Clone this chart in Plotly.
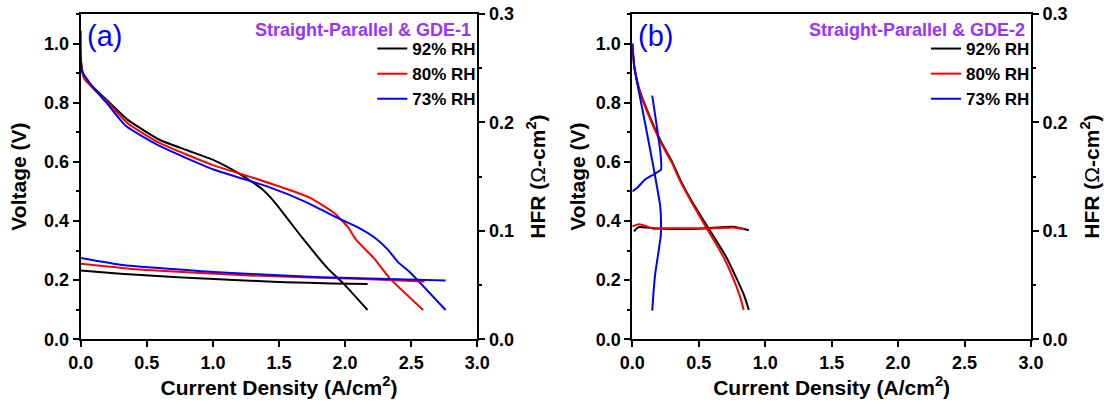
import plotly.graph_objects as go

# ---------------- data ----------------
# Panel (a): Straight-Parallel & GDE-1
ja_92 = [0.0, 0.01, 0.03, 0.1, 0.195, 0.357, 0.6, 0.8, 1.005, 1.17, 1.28, 1.38, 1.465, 1.68, 1.87, 1.99, 2.17]
va_92 = [0.95, 0.91, 0.88, 0.85, 0.81, 0.742, 0.674, 0.64, 0.606, 0.568, 0.537, 0.505, 0.465, 0.341, 0.239, 0.1875, 0.099]
ja_80 = [0.0, 0.01, 0.03, 0.1, 0.195, 0.357, 0.6, 1.0, 1.276, 1.546, 1.735, 1.92, 2.02, 2.086, 2.22, 2.34, 2.59]
va_80 = [0.95, 0.91, 0.88, 0.845, 0.805, 0.73, 0.663, 0.589, 0.55, 0.51, 0.478, 0.426, 0.38, 0.335, 0.273, 0.205, 0.099]
ja_73 = [0.0, 0.011, 0.086, 0.195, 0.343, 0.6, 1.005, 1.41, 1.7, 1.95, 2.1, 2.22, 2.32, 2.40, 2.49, 2.76]
va_73 = [1.043, 0.907, 0.856, 0.80, 0.721, 0.653, 0.574, 0.517, 0.465, 0.409, 0.378, 0.345, 0.305, 0.261, 0.227, 0.099]

jha_92 = [0.0, 0.3, 0.735, 1.2, 1.546, 1.9, 2.17]
ha_92 = [0.0635, 0.0605, 0.0573, 0.0545, 0.0527, 0.0515, 0.0511]
jha_80 = [0.0, 0.465, 1.276, 2.086, 2.6]
ha_80 = [0.0697, 0.0641, 0.0589, 0.0558, 0.0533]
jha_73 = [0.0, 0.33, 1.005, 1.816, 2.76]
ha_73 = [0.075, 0.0682, 0.062, 0.0573, 0.0543]

# Panel (b): Straight-Parallel & GDE-2
jb_92 = [0.0, 0.015, 0.05, 0.116, 0.22, 0.30, 0.36, 0.45, 0.55, 0.63, 0.707, 0.78, 0.84, 0.877]
vb_92 = [1.0, 0.92, 0.85, 0.77, 0.665, 0.60, 0.54, 0.465, 0.392, 0.335, 0.278, 0.21, 0.15, 0.099]
jb_80 = [0.0, 0.015, 0.05, 0.116, 0.22, 0.30, 0.36, 0.45, 0.54, 0.62, 0.69, 0.76, 0.81, 0.838]
vb_80 = [1.0, 0.92, 0.845, 0.765, 0.66, 0.595, 0.535, 0.46, 0.39, 0.33, 0.275, 0.205, 0.145, 0.099]
jb_73 = [0.0, 0.013, 0.04, 0.09, 0.158, 0.21, 0.216, 0.214, 0.195, 0.172, 0.16, 0.15]
vb_73 = [1.0, 0.93, 0.86, 0.745, 0.585, 0.45, 0.40, 0.35, 0.29, 0.22, 0.16, 0.097]

jhb_92 = [0.013, 0.03, 0.053, 0.158, 0.3, 0.5, 0.76, 0.877]
hb_92 = [0.0995, 0.102, 0.1035, 0.1025, 0.1018, 0.102, 0.1038, 0.1005]
jhb_80 = [0.0, 0.03, 0.053, 0.1, 0.158, 0.236, 0.45, 0.629, 0.76, 0.84]
hb_80 = [0.104, 0.1055, 0.106, 0.1045, 0.102, 0.1025, 0.1023, 0.1023, 0.1032, 0.1015]
jhb_73 = [0.0, 0.04, 0.092, 0.16, 0.216, 0.212, 0.15]
hb_73 = [0.1364, 0.140, 0.147, 0.152, 0.1566, 0.172, 0.2248]

series_names = ["92% RH", "80% RH", "73% RH"]
colors = ["#000000", "#ff0000", "#0000ff"]
panel_titles = ["Straight-Parallel &amp; GDE-1", "Straight-Parallel &amp; GDE-2"]
panel_labels = ["(a)", "(b)"]
x_ticks = [0, 0.5, 1.0, 1.5, 2.0, 2.5, 3.0]
x_title = "Current Density (A/cm<sup>2</sup>)"
yl_title = "Voltage (V)"
yr_title = "HFR (<span style='font-weight:normal'>Ω</span>-cm<sup>2</sup>)"

# ---------------- figure ----------------
W, H = 1104, 404
FONT = "Liberation Sans, Arial, sans-serif"
fig = go.Figure()

pol = [[(ja_92, va_92), (ja_80, va_80), (ja_73, va_73)],
       [(jb_92, vb_92), (jb_80, vb_80), (jb_73, vb_73)]]
hfr = [[(jha_92, ha_92), (jha_80, ha_80), (jha_73, ha_73)],
       [(jhb_92, hb_92), (jhb_80, hb_80), (jhb_73, hb_73)]]

for p in range(2):
    xa = "x" if p == 0 else "x2"
    yl = "y" if p == 0 else "y3"
    yr = "y2" if p == 0 else "y4"
    lg = "legend" if p == 0 else "legend2"
    for k in range(3):
        jx, hy = hfr[p][k]
        fig.add_trace(go.Scatter(x=jx, y=hy, mode="lines", xaxis=xa, yaxis=yr,
                                 line=dict(color=colors[k], width=2, shape="spline", smoothing=0.4),
                                 showlegend=False, hoverinfo="skip"))
        jx, vy = pol[p][k]
        fig.add_trace(go.Scatter(x=jx, y=vy, mode="lines", xaxis=xa, yaxis=yl,
                                 name=series_names[k], legend=lg,
                                 line=dict(color=colors[k], width=2, shape="spline", smoothing=0.5),
                                 showlegend=True))

px_dom_x = [(80.7, 477.3), (632.3, 1031.0)]
y_top, y_bot = 14.0, 339.3
y_dom = [1 - y_bot / H, 1 - y_top / H]

tickfont = dict(family=FONT, size=18, color="black", weight="bold")
titlefont = dict(family=FONT, size=21, color="black", weight="bold")

common_x = dict(range=[0, 3], tickvals=x_ticks, tickformat=".1f", showline=True, linecolor="black",
                linewidth=2, mirror=True, ticks="outside", ticklen=6, tickwidth=2, tickcolor="black",
                showgrid=False, zeroline=False, tickfont=tickfont, automargin=False,
                title=dict(text=x_title, font=titlefont, standoff=3))
common_yl = dict(range=[0, 1.1], dtick=0.2, tick0=0, tickformat=".1f", showline=True, linecolor="black",
                 linewidth=2, ticks="outside", ticklen=6, tickwidth=2, tickcolor="black",
                 showgrid=False, zeroline=False, tickfont=tickfont, automargin=False,
                 minor=dict(dtick=0.1, ticks="outside", ticklen=3, tickwidth=2, tickcolor="black", showgrid=False))
common_yr = dict(range=[0, 0.3], dtick=0.1, tick0=0, tickformat=".1f", showline=True, linecolor="black",
                 linewidth=2, ticks="outside", ticklen=6, tickwidth=2, tickcolor="black",
                 showgrid=False, zeroline=False, tickfont=tickfont, side="right", automargin=False,
                 minor=dict(dtick=0.05, ticks="outside", ticklen=3, tickwidth=2, tickcolor="black", showgrid=False))

fig.update_layout(
    xaxis=dict(domain=[px_dom_x[0][0] / W, px_dom_x[0][1] / W], anchor="y", **common_x),
    yaxis=dict(domain=y_dom, anchor="x", **common_yl),
    yaxis2=dict(overlaying="y", anchor="x", **common_yr),
    xaxis2=dict(domain=[px_dom_x[1][0] / W, px_dom_x[1][1] / W], anchor="y3", **common_x),
    yaxis3=dict(domain=y_dom, anchor="x2", **common_yl),
    yaxis4=dict(overlaying="y3", anchor="x2", **common_yr),
)

y_mid = 1 - (y_top + y_bot) / 2 / H
yl_title_x = [19, 578]
yr_title_x = [536, 1090]
legfont = dict(family=FONT, size=17, color="black", weight="bold")
for p, lgname in enumerate(["legend", "legend2"]):
    fig.update_layout({lgname: dict(x=(px_dom_x[p][1] + 4) / W, xanchor="right", y=1 - 31 / H, yanchor="top",
                                    bgcolor="rgba(0,0,0,0)", borderwidth=0, font=legfont,
                                    tracegroupgap=0, itemwidth=30)})
    fig.add_annotation(x=(px_dom_x[p][1] - 4) / W, y=1 - 30 / H, xref="paper", yref="paper",
                       text=panel_titles[p], showarrow=False, xanchor="right", yanchor="middle",
                       font=dict(family=FONT, size=18, color="#9933ff", weight="bold"))
    fig.add_annotation(x=(px_dom_x[p][0] + 4) / W, y=1 - 36 / H, xref="paper", yref="paper",
                       text=panel_labels[p], showarrow=False, xanchor="left", yanchor="middle",
                       font=dict(family=FONT, size=29, color="#0000ff"))
    fig.add_annotation(x=yl_title_x[p] / W, y=y_mid, xref="paper", yref="paper", textangle=-90,
                       text=yl_title, showarrow=False, xanchor="center", yanchor="middle", font=titlefont)
    fig.add_annotation(x=yr_title_x[p] / W, y=y_mid, xref="paper", yref="paper", textangle=-90,
                       text=yr_title, showarrow=False, xanchor="center", yanchor="middle", font=titlefont)

fig.update_layout(width=W, height=H, margin=dict(l=0, r=0, t=0, b=0),
                  paper_bgcolor="white", plot_bgcolor="white", showlegend=True)

fig.write_html("out.html")
